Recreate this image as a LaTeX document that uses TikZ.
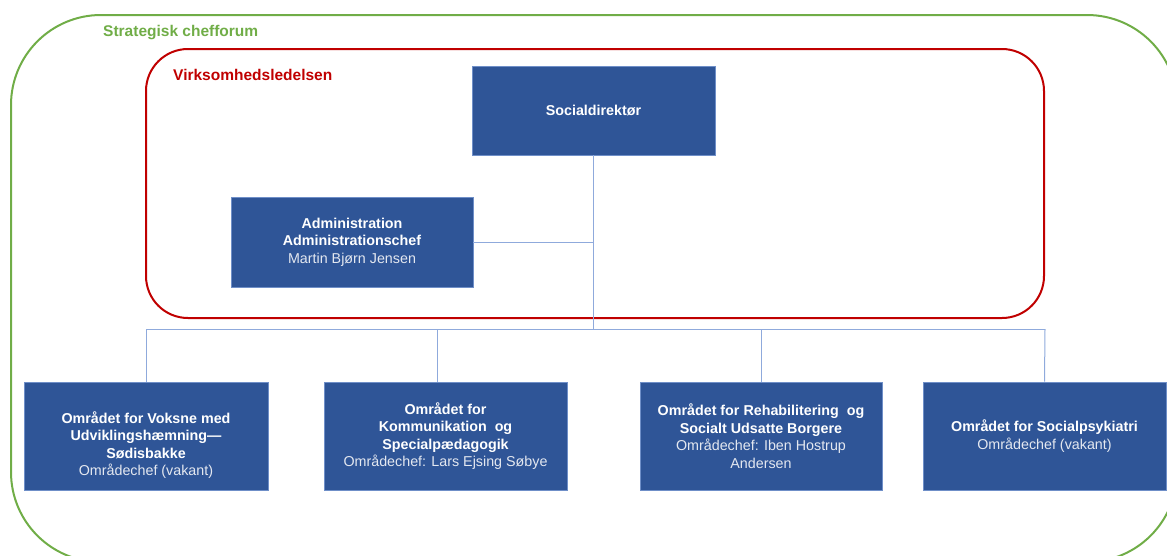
\documentclass[tikz,border=0pt]{standalone}
\usepackage{fontspec}
\setmainfont{Liberation Sans}
\definecolor{boxblue}{HTML}{2F5597}
\definecolor{boxedge}{HTML}{6F8FC8}
\definecolor{sub}{HTML}{E4E8F0}
\definecolor{forumgreen}{HTML}{70AD47}
\definecolor{ledred}{HTML}{C00000}
\definecolor{conncol}{HTML}{8FAADC}
\begin{document}
\begin{tikzpicture}[x=1pt,y=-1pt,
  orgbox/.style={rectangle, fill=boxblue, draw=boxedge, line width=0.6pt,
    minimum width=243pt, minimum height=108pt, inner sep=2pt,
    text=white, align=center, font=\fontsize{14.3}{17.6}\selectfont},
  boxtext/.style={text=white, align=center, inner sep=0pt, font=\fontsize{14.3}{17.6}\selectfont},
  conn/.style={draw=conncol, line width=1pt},
  grouplabel/.style={anchor=west, inner sep=0pt, font=\bfseries\fontsize{15.5}{18}\selectfont}]
\useasboundingbox (0,0) rectangle (1167,555);
\begin{scope}
\clip (0,0) rectangle (1167,555);
\draw[forumgreen, line width=2pt, rounded corners=90pt] (11,15) rectangle (1177,562);
\end{scope}
\draw[ledred, line width=2pt, rounded corners=42pt] (146,49) rectangle (1044,318);
\node[grouplabel, text=forumgreen] (forum) at (103,33) {Strategisk chefforum};
\node[grouplabel, text=ledred] (ledelse) at (173,75) {Virksomhedsledelsen};

\coordinate (bus) at (593.5,329);
\coordinate (busL) at (146,329);
\coordinate (busR) at (1045,329);
\coordinate (b2top) at (437,382);

\node[orgbox, minimum height=89pt] (sd) at (593.5,110.5) {\textbf{Socialdirektør}};
\node[orgbox, minimum width=242pt, minimum height=90pt] (adm) at (352,242)
  {\textbf{Administration}\\\textbf{Administrationschef}\\{\color{sub}Martin Bjørn Jensen}};
\node[orgbox, minimum width=244pt] (b1) at (146,436) {};
\node[boxtext] (b1t) at ([yshift=-9pt]b1.center)
  {\textbf{Området for Voksne med}\\\textbf{Udviklingshæmning—}\\\textbf{Sødisbakke}\\{\color{sub}Områdechef (vakant)}};
\node[orgbox] (b2) at (445.5,436)
  {\textbf{Området for}\\\textbf{Kommunikation\ \ og}\\\textbf{Specialpædagogik}\\{\color{sub}Områdechef: Lars Ejsing Søbye}};
\node[orgbox, minimum width=242pt] (b3) at (761,436)
  {\textbf{Området for Rehabilitering\ \ og}\\\textbf{Socialt Udsatte Borgere}\\{\color{sub}Områdechef: Iben Hostrup}\\{\color{sub}Andersen}};
\node[orgbox] (b4) at (1044.5,436)
  {\textbf{Området for Socialpsykiatri}\\{\color{sub}Områdechef (vakant)}};

\draw[conn] (sd.south) -- (bus);
\draw[conn] (busL) -- (busR);
\draw[conn] (adm.east) -- (adm.east -| sd.south);
\draw[conn] (busL) -- (b1.north);
\draw[conn] (b2top |- busL) -- (b2top);
\draw[conn] (bus -| b3.north) -- (b3.north);
\draw[conn] (busR) -- (b4.north);
\end{tikzpicture}
\end{document}
